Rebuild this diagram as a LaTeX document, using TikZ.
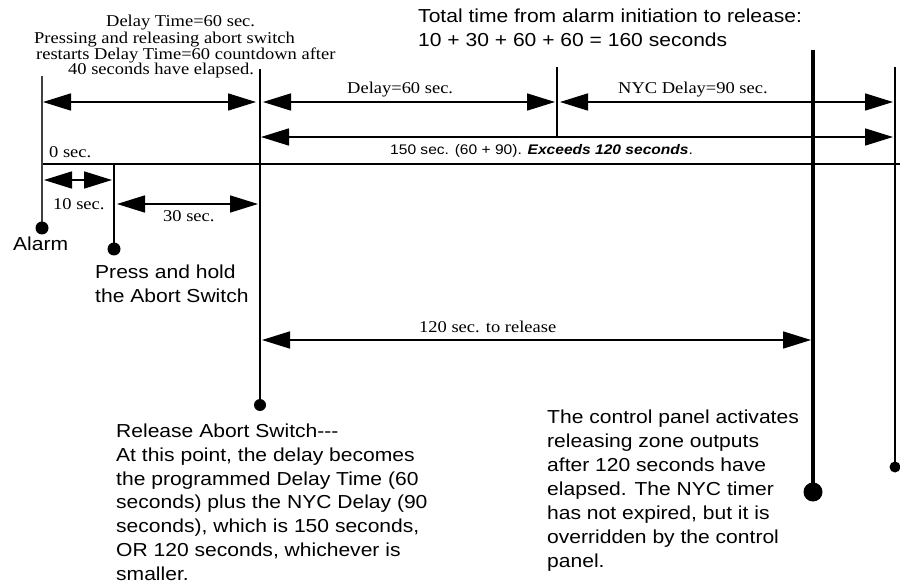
\documentclass[tikz,border=0pt]{standalone}
\usepackage{fontspec}
\setmainfont{Liberation Serif}[FakeStretch=1.12]
\newfontfamily\arialf{Liberation Sans}[FakeStretch=1.12]
\usetikzlibrary{arrows.meta}
\tikzset{
  thin line/.style={line width=1.6pt},
  dimarrow/.style={line width=1.6pt,
    {Triangle[length=28pt,width=17pt]}-{Triangle[length=28pt,width=17pt]}},
  sertext/.style={font=\fontsize{16.5}{16}\selectfont, inner sep=0pt, anchor=base west},
  sanstext/.style={font=\arialf\fontsize{18.8}{23.7}\selectfont, inner sep=0pt, anchor=base west, align=left},
  smallsans/.style={font=\arialf\fontsize{13.9}{16}\selectfont, inner sep=0pt, anchor=base west},
  dot/.style={circle, fill=black, inner sep=0pt, minimum size=#1},
}
\begin{document}
\begin{tikzpicture}[x=1pt,y=-1pt]
\useasboundingbox (0,0) rectangle (900,588);
% vertical and horizontal lines
\coordinate (a0) at (42,76);  \coordinate (a1) at (42,228);
\coordinate (p0) at (114,164); \coordinate (p1) at (114,249);
\coordinate (r0) at (260,69); \coordinate (r1) at (260,405);
\coordinate (m0) at (557,67); \coordinate (m1) at (557,137);
\coordinate (t0) at (813,50); \coordinate (t1) at (813,492);
\coordinate (e0) at (895,67); \coordinate (e1) at (895,467);
\coordinate (h0) at (42,164); \coordinate (h1) at (900,164);
\draw[thin line] (h0) -- (h1);
\draw[line width=1.4pt, black!75] (a0) -- (a1);
\draw[thin line] (p0) -- (p1);
\draw[thin line] (r0) -- (r1);
\draw[thin line] (m0) -- (m1);
\draw[line width=4pt] (t0) -- (t1);
\draw[line width=2.2pt] (e0) -- (e1);
\node[dot=13pt] (adot) at (a1) {};
\node[dot=13pt] (pdot) at (p1) {};
\node[dot=12pt] (rdot) at (r1) {};
\node[dot=19pt] (tdot) at (t1) {};
\node[dot=11pt] (edot) at (e1) {};
% arrow end points
\coordinate (d1a) at (43,102);  \coordinate (d1b) at (256,102);
\coordinate (d2a) at (263,102); \coordinate (d2b) at (555,102);
\coordinate (d3a) at (560,102); \coordinate (d3b) at (893,102);
\coordinate (d4a) at (261,137); \coordinate (d4b) at (893,137);
\coordinate (d5a) at (44,180);  \coordinate (d5b) at (112,180);
\coordinate (d6a) at (117,204); \coordinate (d6b) at (258,204);
\coordinate (d7a) at (262,340); \coordinate (d7b) at (811,340);
\draw[dimarrow] (d1a) -- (d1b);
\draw[dimarrow] (d2a) -- (d2b);
\draw[dimarrow] (d3a) -- (d3b);
\draw[dimarrow] (d4a) -- (d4b);
\draw[dimarrow] (d5a) -- (d5b);
\draw[dimarrow] (d6a) -- (d6b);
\draw[dimarrow] (d7a) -- (d7b);
% texts (multi-line nodes are anchored at the baseline of their last line)
\node[sertext] (top1) at (106,27) {Delay Time=60 sec.};
\node[sertext] (top2) at (34,44) {Pressing and releasing abort switch};
\node[sertext] (top3) at (36,60) {restarts Delay Time=60 countdown after};
\node[sertext] (top4) at (68,75) {40 seconds have elapsed.};
\node[sertext] (zero) at (49,158) {0 sec.};
\node[sanstext, font=\arialf\fontsize{18.8}{24}\selectfont] (total) at (418,47)
  {Total time from alarm initiation to release:\\10 + 30 + 60 + 60 = 160 seconds};
\node[sertext] (delay) at (347,94) {Delay=60 sec.};
\node[sertext] (nyc) at (618,94) {NYC Delay=90 sec.};
\node[smallsans] (exceed) at (390,155) {150 sec. (60 + 90). \textbf{\textit{Exceeds 120 seconds}}.};
\node[sertext] (ten) at (53,210) {10 sec.};
\node[sertext] (thirty) at (163,222) {30 sec.};
\node[sertext] (rel120) at (419,332) {120 sec. to release};
\node[sanstext] (alarm) at (13,251) {Alarm};
\node[sanstext, font=\arialf\fontsize{18.8}{24}\selectfont] (press) at (95,302) {Press and hold\\the Abort Switch};
\node[sanstext] (release) at (116,580) {Release Abort Switch---\\At this point, the delay becomes\\the programmed Delay Time (60\\seconds) plus the NYC Delay (90\\seconds), which is 150 seconds,\\OR 120 seconds, whichever is\\smaller.};
\node[sanstext, font=\arialf\fontsize{18.8}{24}\selectfont] (control) at (547,567) {The control panel activates\\releasing zone outputs\\after 120 seconds have\\elapsed. The NYC timer\\has not expired, but it is\\overridden by the control\\panel.};
\end{tikzpicture}
\end{document}
